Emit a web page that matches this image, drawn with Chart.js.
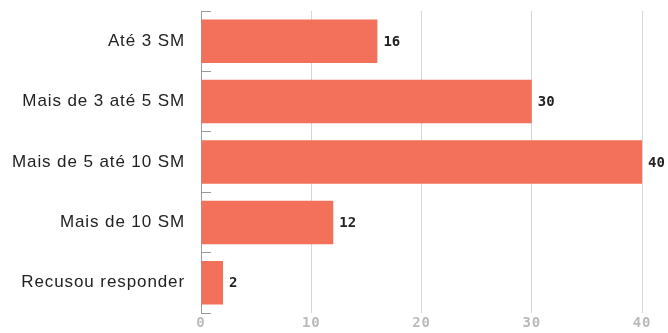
<!DOCTYPE html>
<html>
<head>
<meta charset="utf-8">
<script src="https://cdn.jsdelivr.net/npm/chart.js@4/dist/chart.umd.min.js"></script>
<style>
  html, body { margin: 0; padding: 0; background: #fff; }
  canvas { display: block; }
</style>
</head>
<body>
<canvas id="renda" width="668" height="333"></canvas>
<script>
var categorias = ["Até 3 SM", "Mais de 3 até 5 SM", "Mais de 5 até 10 SM", "Mais de 10 SM", "Recusou responder"];
var valores = [16, 30, 40, 12, 2];
var escalaX = [0, 10, 20, 30, 40];

// espaçamento entre letras dos nomes das categorias
var espacamento = {
  id: "espacamento",
  beforeDraw: function (chart) {
    chart.ctx.letterSpacing = "0.9px";
  },
  afterDatasetsDraw: function (chart) {
    chart.ctx.letterSpacing = "0px";
  }
};

// escreve o valor na ponta de cada barra
var rotulos = {
  id: "rotulos",
  afterDatasetsDraw: function (chart) {
    var ctx = chart.ctx;
    var meta = chart.getDatasetMeta(0);
    ctx.save();
    ctx.letterSpacing = "0px";
    ctx.font = "bold 14px 'DejaVu Sans Mono'";
    ctx.fillStyle = "#222";
    ctx.textAlign = "left";
    ctx.textBaseline = "middle";
    meta.data.forEach(function (bar, i) {
      ctx.fillText(String(valores[i]), bar.x + 6, bar.y + 1);
    });
    ctx.restore();
  }
};

var grafico = new Chart(document.getElementById("renda").getContext("2d"), {
  type: "bar",
  data: {
    labels: categorias,
    datasets: [{
      data: valores,
      backgroundColor: "#f3705b",
      borderWidth: 0,
      barPercentage: 0.9,
      categoryPercentage: 0.8
    }]
  },
  plugins: [espacamento, rotulos],
  options: {
    indexAxis: "y",
    responsive: false,
    animation: false,
    devicePixelRatio: 1,
    layout: { padding: { top: 11, right: 26, left: 0, bottom: 0 } },
    plugins: {
      legend: { display: false },
      tooltip: { enabled: false }
    },
    scales: {
      x: {
        min: escalaX[0],
        max: escalaX[escalaX.length - 1],
        afterBuildTicks: function (scale) {
          scale.ticks = escalaX.map(function (v) { return { value: v }; });
        },
        afterFit: function (scale) { scale.height = 20; },
        border: { display: false },
        grid: {
          drawTicks: false,
          color: function (c) { return c.tick && c.tick.value === 0 ? "rgba(0,0,0,0)" : "#d6d6d6"; }
        },
        ticks: {
          padding: 2,
          color: "#bababa",
          font: { family: "DejaVu Sans Mono", size: 14, weight: "bold" }
        }
      },
      y: {
        afterFit: function (scale) {
          scale.width = 201;
          scale.paddingTop = 0;
          scale.paddingBottom = 0;
        },
        border: { display: true, color: "#9a9a9a" },
        grid: {
          offset: true,
          drawOnChartArea: false,
          drawTicks: true,
          tickLength: -10,
          color: "#9a9a9a"
        },
        ticks: {
          padding: 26,
          color: "#222",
          font: { family: "Liberation Sans", size: 17 }
        }
      }
    }
  }
});
</script>
</body>
</html>
